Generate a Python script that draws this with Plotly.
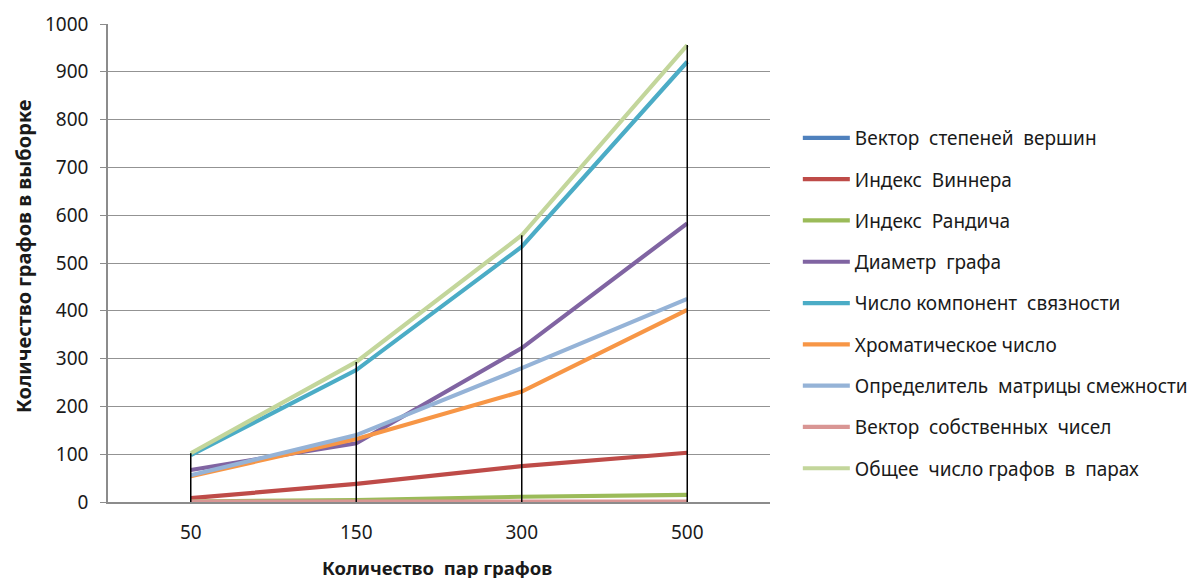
import plotly.graph_objects as go

categories = ["50", "150", "300", "500"]

series_names = [
    "Вектор  степеней  вершин",
    "Индекс  Виннера",
    "Индекс  Рандича",
    "Диаметр  графа",
    "Число компонент  связности",
    "Хроматическое число",
    "Определитель  матрицы смежности",
    "Вектор  собственных  чисел",
    "Общее  число графов  в  парах",
]

vec_degrees = [0, 0, 0, 0]
wiener = [8, 38, 75, 103]
randic = [1, 4, 11, 15]
diameter = [67, 123, 322, 583]
components = [98, 276, 534, 921]
chromatic = [54, 132, 231, 402]
determinant = [56, 140, 280, 425]
eigen_vec = [1, 1, 1, 1]
total_graphs = [102, 293, 558, 956]

series_values = [vec_degrees, wiener, randic, diameter, components,
                 chromatic, determinant, eigen_vec, total_graphs]

colors = ["#4F81BD", "#BE4B48", "#9BBB59", "#8064A2", "#4BACC6",
          "#F79646", "#95B3D7", "#D99694", "#C3D69B"]

FONT = "Noto Sans"
TXT = "#1a1a1a"

fig = go.Figure()
for i, (name, vals, col) in enumerate(zip(series_names, series_values, colors)):
    fig.add_trace(go.Scatter(
        x=categories, y=vals, name=name, mode="lines",
        line=dict(color=col, width=4.2),
        legendgroup=f"g{i}",
    ))

# high-low lines
hx, hy = [], []
for j, c in enumerate(categories):
    col_vals = [s[j] for s in series_values]
    hx += [c, c, None]
    hy += [min(col_vals), max(col_vals), None]
fig.add_trace(go.Scatter(x=hx, y=hy, mode="lines",
                         line=dict(color="black", width=1.5),
                         showlegend=False, hoverinfo="skip"))

# page body has an 8px margin: figure coords = screen coords - 8
L, T, R, B = 100, 16, 762, 494
PW, PH = R - L, B - T

fig.update_layout(
    width=1204, height=578,
    margin=dict(l=L, r=1204 - R, t=T, b=578 - B, autoexpand=False),
    plot_bgcolor="white", paper_bgcolor="white",
    font=dict(family=FONT, size=18, color=TXT),
    showlegend=True,
    legend=dict(
        xref="container", yref="container",
        x=0.656, y=0.808, xanchor="left", yanchor="top",
        font=dict(family=FONT, size=19, color=TXT),
        tracegroupgap=13.6, itemwidth=47,
        bgcolor="rgba(0,0,0,0)",
        maxheight=560,
    ),
    xaxis=dict(
        type="category", categoryorder="array", categoryarray=categories,
        range=[-0.5, 3.5], automargin=False,
        showline=True, linecolor="#8c8c8c", linewidth=1.5,
        showgrid=False, ticks="", ticklabelstandoff=12,
        tickfont=dict(family=FONT, size=19, color=TXT),
    ),
    yaxis=dict(
        range=[0, 1000], dtick=100, tick0=0, automargin=False,
        showline=True, linecolor="#8c8c8c", linewidth=1.5,
        showgrid=True, gridcolor="#939393", gridwidth=1,
        zeroline=False,
        ticks="outside", ticklen=6, tickcolor="#8c8c8c",
        ticklabelstandoff=8,
        tickfont=dict(family=FONT, size=19, color=TXT),
    ),
    annotations=[
        dict(text="<b>Количество  пар графов</b>", xref="paper", yref="paper",
             x=(437 - 8 - L) / PW, y=-(567 - 8 - B) / PH,
             xanchor="center", yanchor="middle",
             showarrow=False, font=dict(family=FONT, size=18.5, color=TXT)),
        dict(text="<b>Количество графов в выборке</b>", xref="paper", yref="paper",
             x=(23 - 8 - L) / PW, y=(B - (256 - 8)) / PH,
             xanchor="center", yanchor="middle",
             textangle=-90, showarrow=False,
             font=dict(family=FONT, size=20, color=TXT)),
    ],
)

fig.write_html("out.html")
